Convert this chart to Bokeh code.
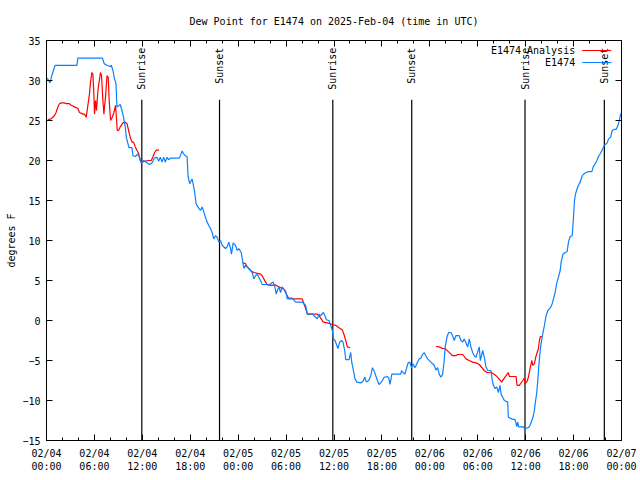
import numpy as np
import pandas as pd
from bokeh.plotting import figure
from bokeh.models import (FixedTicker, DatetimeTickFormatter, LinearAxis, Range1d)
from bokeh.core.properties import value
from bokeh.embed import file_html
from bokeh.resources import INLINE

START = pd.Timestamp("2025-02-04 00:00")

# ---- E1474 (observed) : hours since 02/04 00:00 UTC, dew point (F)
obs_hours = [0.08, 0.45, 0.66, 1.08, 3.80, 3.93, 7.01, 7.23, 7.57, 7.98, 8.11, 8.32, 8.52, 8.70, 8.82,
             8.98, 9.23, 9.45, 9.65, 9.86, 9.99, 10.20, 10.33, 10.70, 10.83, 11.12, 11.41, 11.66, 11.83,
             12.16, 12.46, 12.87, 13.21, 13.50, 13.84, 14.04, 14.25, 14.47, 14.67, 14.88, 15.09, 15.29,
             15.51, 16.64, 16.98, 17.18, 17.39, 17.60, 17.73, 17.93, 18.23, 18.52, 18.73, 18.96, 19.27,
             19.49, 19.69, 19.90, 20.11, 20.53, 20.74, 20.94, 21.15, 21.37, 21.57, 21.78, 22.00, 22.41,
             22.62, 22.82, 23.04, 23.16, 23.38, 23.66, 23.88, 24.08, 24.38, 24.58, 24.71, 24.92, 25.33,
             25.55, 25.76, 25.96, 26.17, 26.39, 26.59, 26.80, 27.01, 27.64, 27.84, 28.06, 28.39, 28.60,
             28.77, 28.90, 29.10, 29.31, 29.52, 29.72, 29.94, 30.15, 30.35, 30.78, 31.19, 32.03, 32.23,
             32.45, 32.66, 33.29, 33.49, 33.70, 33.91, 34.12, 34.33, 34.67, 34.87, 35.04, 35.37, 35.58,
             35.80, 35.92, 36.12, 36.50, 36.71, 36.93, 37.13, 37.34, 37.47, 37.88, 38.09, 38.22, 38.43,
             38.63, 38.85, 39.35, 39.64, 39.85, 40.06, 40.35, 40.60, 40.82, 41.02, 41.23, 41.44, 41.64,
             41.86, 42.07, 42.27, 42.70, 42.86, 43.02, 43.24, 44.37, 44.45, 44.65, 44.87, 45.08, 45.28,
             45.49, 45.71, 45.91, 46.12, 46.29, 46.46, 46.66, 46.88, 47.09, 47.29, 47.50, 47.72, 48.13,
             48.54, 48.76, 48.97, 49.17, 49.39, 49.60, 49.80, 49.92, 50.14, 50.35, 50.64, 50.85, 51.05,
             51.27, 51.68, 51.89, 52.11, 52.31, 52.74, 52.94, 53.15, 53.36, 53.56, 53.78, 54.19, 54.32,
             54.62, 54.82, 55.03, 55.25, 55.66, 55.79, 55.95, 56.16, 56.38, 56.58, 56.79, 56.92, 57.13,
             57.33, 57.75, 57.83, 58.26, 58.67, 58.89, 59.01, 59.14, 59.71, 59.84, 60.34, 60.55, 60.77,
             60.93, 61.09, 61.22, 61.39, 61.52, 61.64, 61.77, 61.93, 62.06, 62.22, 62.35, 62.56, 62.78,
             63.10, 63.32, 63.48, 63.69, 63.90, 64.10, 64.32, 64.44, 64.66, 64.94, 65.19, 65.36, 65.57,
             65.82, 65.91, 66.04, 66.11, 66.24, 66.45, 66.61, 66.83, 67.08, 67.37, 67.79, 68.29, 68.46,
             68.71, 68.92, 69.12, 69.37, 69.67, 69.87, 70.21, 70.38, 70.63, 70.84, 71.13, 71.35, 71.56,
             71.77, 71.89, 71.98]
obs_dewpt = [30.3, 29.7, 30.6, 31.9, 31.9, 32.8, 32.8, 32.1, 31.9, 31.75, 31.9, 31.25, 30.2, 29.6, 26.7,
             26.8, 27.0, 26.25, 25.4, 24.2, 22.9, 22.1, 21.6, 21.6, 20.6, 20.5, 20.8, 20.4, 19.7,
             20.0, 19.8, 19.5, 19.7, 20.3, 20.4, 19.9, 20.4, 19.8, 20.4, 19.8, 20.4, 20.1,
             20.3, 20.3, 21.2, 20.8, 20.6, 20.5, 18.0, 17.1, 17.7, 16.25, 14.6, 14.2, 13.75,
             14.2, 13.6, 12.9, 12.3, 11.5, 11.0, 10.2, 10.6, 10.4, 9.8, 10.0, 9.4, 9.0,
             9.2, 9.8, 9.0, 8.3, 9.7, 9.4, 8.75, 9.0, 8.5, 7.3, 6.5, 6.9, 6.5,
             6.25, 6.0, 5.2, 5.6, 5.75, 5.4, 5.0, 4.5, 4.5, 4.4, 4.6, 4.8, 4.2,
             3.3, 3.75, 4.2, 3.5, 4.2, 3.9, 3.7, 2.7, 2.8, 2.8, 2.3, 2.3, 2.1,
             1.9, 0.8, 0.8, 0.6, 0.4, 0.2, 0.8, 0.6, 1.0, 0.6, 0.1, 0.0, -0.6,
             -1.25, -2.3, -2.5, -3.5, -2.7, -2.5, -2.7, -3.75, -4.9, -4.9, -4.0, -5.2, -6.25,
             -7.3, -7.7, -7.8, -7.6, -7.1, -7.7, -7.5, -6.9, -5.9, -6.3, -6.9, -7.5, -8.0,
             -7.8, -7.5, -7.1, -7.0, -7.2, -8.0, -6.7, -6.7, -6.25, -6.5, -6.7, -6.0, -5.3,
             -5.2, -5.9, -5.4, -5.9, -5.6, -5.2, -4.8, -4.7, -4.25, -4.0, -4.4, -4.8, -5.2,
             -5.6, -6.2, -5.9, -6.7, -7.1, -6.7, -5.0, -3.3, -2.1, -1.5, -1.5, -1.9, -2.5,
             -1.9, -1.9, -2.5, -2.7, -2.3, -3.3, -2.3, -3.3, -4.0, -4.4, -4.6, -3.3, -5.0,
             -3.75, -4.6, -5.8, -6.25, -6.25, -7.3, -8.1, -8.5, -8.3, -9.0, -8.1, -9.2, -9.6,
             -10.0, -10.2, -12.1, -12.3, -12.4, -13.25, -12.7, -13.3, -13.3, -13.5, -13.4, -13.1, -12.5,
             -12.0, -11.25, -10.2, -9.0, -7.5, -5.8, -4.2, -2.9, -2.1, -1.25, -0.6, 0.6, 1.25,
             1.6, 2.1, 2.7, 3.5, 4.7, 5.4, 6.25, 7.3, 8.25, 8.5, 8.6, 9.8, 10.5,
             10.6, 11.7, 13.75, 15.0, 15.8, 16.5, 16.9, 17.3, 18.1, 18.4, 18.6, 18.6, 19.2,
             19.6, 20.0, 20.5, 20.9, 21.5, 21.9, 22.2, 22.7, 22.9, 23.75, 23.9, 23.9, 24.4,
             25.2, 25.8, 25.9]

# ---- E1474 Analysis : hours since 02/04 00:00 UTC, dew point (F); NaN = gap in data
ana_hours = [0.16, 0.58, 0.99, 1.20, 1.42, 1.62, 1.83, 2.25, 2.46, 2.87, 3.09, 3.50, 3.93, 4.13, 4.55,
             4.76, 4.97, 5.18, 5.38, 5.51, 5.68, 5.81, 5.93, 6.01, 6.14, 6.26, 6.44, 6.56, 6.76, 6.89,
             7.06, 7.19, 7.26, 7.39, 7.57, 7.73, 7.85, 8.02, 8.23, 8.44, 8.65, 8.86, 9.02, 9.23, 9.57,
             9.86, 10.08, 10.28, 10.49, 10.70, 10.90, 11.12, 11.33, 11.53, 11.74, 11.96, 12.28, 12.71,
             13.12, 13.34, 13.54, 13.75, 14.09,
             19.0,
             24.58, 24.92, 25.13, 25.33, 25.55, 25.96, 26.39, 26.80, 27.01, 27.21, 27.43, 27.64, 28.06,
             28.68, 29.10, 29.52, 29.72, 29.94, 30.15, 30.35, 31.82, 32.03, 32.23, 32.45, 32.66, 33.91,
             34.12, 34.33, 34.67, 35.17, 35.80, 36.21, 36.62, 37.05, 37.25, 37.47, 37.68, 38.01,
             43.0,
             48.76, 49.17, 49.60, 49.89, 50.22, 50.64, 50.85, 51.27, 51.48, 52.11, 52.31, 52.52, 52.94,
             53.36, 53.78, 54.19, 54.40, 54.82, 55.16, 55.66, 56.00, 56.29, 56.58, 56.83, 57.00, 57.25,
             57.55, 57.83, 57.96, 58.80, 58.92, 59.21, 59.64, 59.84, 59.93, 60.18, 60.34, 60.59, 60.77,
             60.89, 61.09, 61.31, 61.60, 61.72, 61.85, 62.06]
ana_dewpt = [25.1, 25.2, 25.6, 26.0, 26.7, 27.1, 27.2, 27.2, 27.1, 27.1, 26.9, 26.7, 26.5, 26.0, 25.8,
             25.8, 25.4, 26.9, 28.3, 29.8, 31.0, 30.8, 28.3, 25.8, 27.5, 26.25, 28.75, 29.6, 31.0, 30.6,
             27.5, 25.8, 26.7, 27.9, 30.6, 30.4, 27.5, 25.0, 25.4, 26.0, 26.9, 23.75, 23.75, 24.2, 24.7,
             24.8, 24.6, 23.75, 22.9, 22.3, 22.3, 21.7, 21.25, 20.9, 20.0, 19.8, 19.9, 20.0,
             20.0, 20.5, 21.0, 21.3, 21.3,
             float("nan"),
             7.2, 7.1, 6.7, 6.5, 6.25, 6.0, 5.9, 5.8, 5.6, 5.2, 4.8, 4.5, 4.4,
             4.45, 4.2, 4.0, 3.9, 3.5, 3.1, 2.7, 2.7, 2.7, 2.1, 1.5, 0.8, 0.8,
             0.6, 0.3, -0.2, -0.3, -0.5, -0.6, -0.9, -1.2, -1.75, -2.5, -3.3, -3.4,
             float("nan"),
             -3.25, -3.3, -3.5, -3.5, -3.8, -4.2, -4.4, -4.4, -4.25, -4.25, -4.5, -4.8, -5.0,
             -5.2, -5.3, -5.5, -5.75, -6.25, -6.5, -6.5, -6.7, -6.9, -7.2, -7.5, -7.7, -7.3,
             -6.9, -6.5, -7.0, -7.0, -8.1, -8.1, -7.5, -7.2, -7.9, -7.6, -7.1, -5.8, -5.0,
             -5.6, -5.4, -4.4, -3.5, -2.5, -2.0, -2.0]

# ---- Sun events (UTC)
event_times = ["2025-02-04 11:56", "2025-02-04 21:40", "2025-02-05 11:51",
               "2025-02-05 21:44", "2025-02-06 11:55", "2025-02-06 21:51"]
event_names = ["Sunrise", "Sunset", "Sunrise", "Sunset", "Sunrise", "Sunset"]

y_ticks = [-15, -10, -5, 0, 5, 10, 15, 20, 25, 30, 35]
series_names = ["E1474 Analysis", "E1474"]
series_colors = ["#ff0000", "#0a80ff"]

FONT = "DejaVu Sans Mono"
FS = "10px"


def to_dt(hours):
    return [START + pd.Timedelta(hours=h) for h in hours]


x0 = START
x1 = START + pd.Timedelta(hours=72)

p = figure(width=640, height=480, output_backend="svg", toolbar_location=None,
           x_axis_type="datetime", x_range=Range1d(x0, x1), y_range=Range1d(-15, 35),
           min_border_left=46, min_border_right=19, min_border_top=40, min_border_bottom=40)
p.background_fill_color = "white"
p.border_fill_color = "white"
p.outline_line_color = "black"
p.outline_line_width = 1
p.xgrid.visible = False
p.ygrid.visible = False

p.title.text = "Dew Point for E1474 on 2025-Feb-04 (time in UTC)"
p.title.align = "center"
p.title.text_font = FONT
p.title.text_font_size = FS
p.title.text_font_style = "normal"
p.title.text_color = "black"
p.title.standoff = 27

major_ms = [(START + pd.Timedelta(hours=h)).value / 1e6 for h in range(0, 73, 6)]
minor_ms = [(START + pd.Timedelta(hours=h)).value / 1e6 for h in range(0, 73, 2)]
fmt = "%m/%d\n%H:%M"
dfmt = DatetimeTickFormatter(milliseconds=fmt, seconds=fmt, minsec=fmt, minutes=fmt,
                             hourmin=fmt, hours=fmt, days=fmt, months=fmt, years=fmt)


def style_axis(ax):
    ax.axis_line_color = None
    ax.major_tick_in = 6
    ax.major_tick_out = 0
    ax.minor_tick_in = 3
    ax.minor_tick_out = 0
    ax.major_tick_line_color = "black"
    ax.minor_tick_line_color = "black"
    ax.major_label_text_font = FONT
    ax.major_label_text_font_size = FS
    ax.major_label_text_color = "black"
    ax.axis_label_text_font = FONT
    ax.axis_label_text_font_size = FS
    ax.axis_label_text_font_style = "normal"
    ax.axis_label_text_color = "black"


xax = p.xaxis[0]
xax.ticker = FixedTicker(ticks=major_ms, minor_ticks=minor_ms)
xax.formatter = dfmt
style_axis(xax)
xax.major_label_standoff = 7

yax = p.yaxis[0]
yax.ticker = FixedTicker(ticks=y_ticks, minor_ticks=[])
style_axis(yax)
yax.major_label_standoff = 6
yax.axis_label = "degrees F"
yax.axis_label_standoff = 2

# mirrored tick marks on top and right (no labels, as in the reference)
top = LinearAxis(ticker=FixedTicker(ticks=major_ms, minor_ticks=minor_ms))
style_axis(top)
top.major_label_overrides = {t: "" for t in major_ms}
top.major_label_standoff = 0
p.add_layout(top, "above")

right = LinearAxis(ticker=FixedTicker(ticks=y_ticks, minor_ticks=[]))
style_axis(right)
right.major_label_overrides = {t: "" for t in y_ticks}
right.major_label_standoff = 0
p.add_layout(right, "right")

# sun event lines and labels
ev_x = [pd.Timestamp(t) for t in event_times]
p.segment(x0=ev_x, x1=ev_x, y0=-15, y1=27.6, line_color="black", line_width=1.2)
p.text(x=ev_x, y=[34.1] * len(ev_x), text=event_names, angle=np.pi / 2,
       text_align="right", text_baseline="middle", text_font=value(FONT),
       text_font_size=FS, text_color="black")

# series
p.line(to_dt(ana_hours), ana_dewpt, line_color=series_colors[0], line_width=1.2)
p.line(to_dt(obs_hours), obs_dewpt, line_color=series_colors[1], line_width=1.2)

# legend (gnuplot style: label then sample line)
leg_y = [33.75, 32.25]
p.text(x=[START + pd.Timedelta(hours=66.2)] * 2, y=leg_y, text=series_names,
       text_align="right", text_baseline="middle", text_font=value(FONT),
       text_font_size=FS, text_color="black")
p.segment(x0=[START + pd.Timedelta(hours=67.08)] * 2, x1=[START + pd.Timedelta(hours=70.72)] * 2,
          y0=leg_y, y1=leg_y, line_color=series_colors, line_width=1.2)

open("out.html", "w").write(file_html(p, INLINE))
